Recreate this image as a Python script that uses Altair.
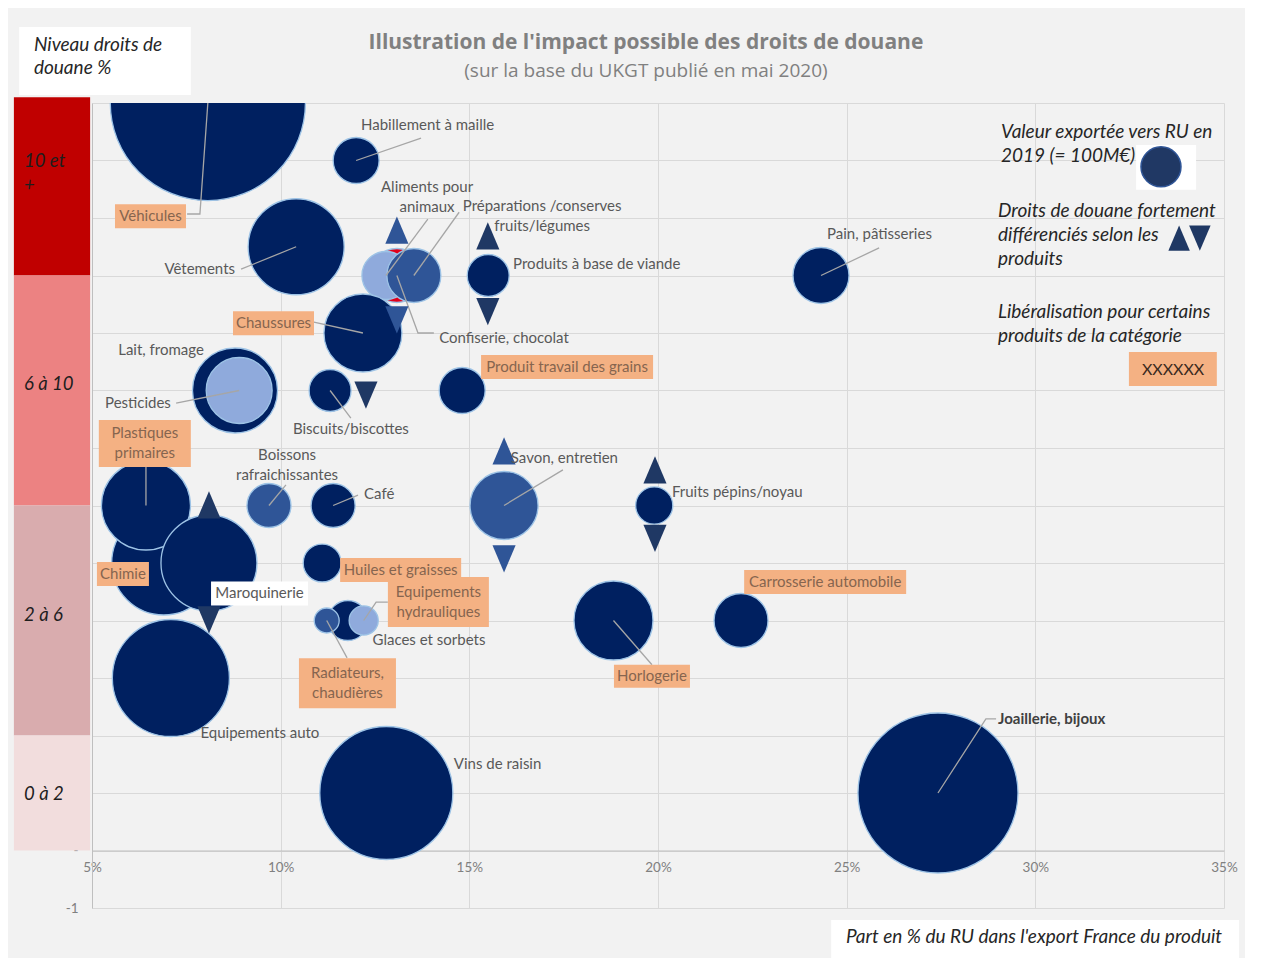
import altair as alt
import pandas as pd

# ---------------- data ----------------
products = ["Véhicules", "Equipements auto", "Vins de raisin", "Joaillerie, bijoux", "Chimie",
            "Plastiques primaires", "Maroquinerie", "Lait, fromage", "Pesticides", "Vêtements",
            "Confiserie, chocolat", "Aliments pour animaux", "Préparations /conserves fruits/légumes",
            "Chaussures", "Habillement à maille", "Produits à base de viande", "Pain, pâtisseries",
            "Biscuits/biscottes", "Produit travail des grains", "Boissons rafraichissantes", "Café",
            "Savon, entretien", "Fruits pépins/noyau", "Huiles et graisses", "Glaces et sorbets",
            "Radiateurs, chaudières", "Equipements hydrauliques", "Horlogerie", "Carrosserie automobile"]
uk_share = [8.07, 7.09, 12.8, 27.42, 6.9, 6.43, 8.1, 8.79, 8.9, 10.41,
            13.08, 12.79, 13.53, 12.18, 12.0, 15.5, 24.32, 11.31, 14.81, 9.69,
            11.39, 15.92, 19.9, 11.1, 11.78, 11.22, 12.2, 18.82, 22.2]
duty_level = [13, 3, 1, 1, 5, 6, 5, 8, 8, 10.5,
              10, 10, 10, 9, 12, 10, 10, 8, 8, 6,
              6, 6, 6, 5, 4, 4, 4, 4, 4]
export_value = [2380, 856, 1106, 1600, 676, 495, 576, 452, 272, 576,
                182, 144, 182, 380, 132, 110, 196, 110, 132, 121,
                121, 289, 86, 90, 100, 39, 53, 390, 182]
tone = ["navy", "navy", "navy", "navy", "navy", "navy", "navy", "navy", "light", "navy",
        "red", "light", "medium", "navy", "navy", "navy", "navy", "navy", "navy", "medium",
        "navy", "medium", "navy", "navy", "navy", "medium", "light", "navy", "navy"]

tri_product = ["Confiserie, chocolat", "Confiserie, chocolat", "Produits à base de viande",
               "Produits à base de viande", "Chaussures", "Maroquinerie", "Maroquinerie",
               "Savon, entretien", "Savon, entretien", "Fruits pépins/noyau", "Fruits pépins/noyau"]
tri_x = [13.08, 13.08, 15.49, 15.49, 12.26, 8.1, 8.1, 15.92, 15.92, 19.92, 19.92]
tri_y = [10.79, 9.23, 10.69, 9.37, 7.92, 6.01, 4.01, 6.95, 5.07, 6.62, 5.43]
tri_dir = ["up", "down", "up", "down", "down", "up", "down", "up", "down", "up", "down"]
tri_tone = ["medium", "medium", "dark", "dark", "dark", "dark", "dark", "medium", "medium", "dark", "dark"]

band_names = ["10 et\n+", "6 à 10", "2 à 6", "0 à 2"]
band_lo = [10, 6, 2, 0]
band_hi = [13.1, 10, 6, 2]
band_colors = ["#c00000", "#ec8282", "#d9acae", "#f2dddd"]
band_label_y = [11.78, 8.11, 4.1, 0.98]

x_ticks = [5, 10, 15, 20, 25, 30, 35]
y_ticks = list(range(-1, 14))

# label annotations: text, x, y (block centre), align, kind, box width px, box height px
labels = [
    ("Habillement à maille", 12.13, 12.62, "left", "plain", 0, 0),
    ("Aliments pour\nanimaux", 13.88, 11.36, "center", "plain", 0, 0),
    ("Préparations /conserves\nfruits/légumes", 16.93, 11.03, "center", "plain", 0, 0),
    ("Produits à base de viande", 16.16, 10.2, "left", "plain", 0, 0),
    ("Pain, pâtisseries", 24.48, 10.72, "left", "plain", 0, 0),
    ("Vêtements", 8.79, 10.11, "right", "plain", 0, 0),
    ("Véhicules", 6.55, 11.03, "center", "orange", 71, 24),
    ("Chaussures", 9.81, 9.17, "center", "orange", 81, 24),
    ("Confiserie, chocolat", 14.2, 8.91, "left", "plain", 0, 0),
    ("Lait, fromage", 6.83, 8.7, "center", "plain", 0, 0),
    ("Pesticides", 7.09, 7.78, "right", "plain", 0, 0),
    ("Biscuits/biscottes", 11.86, 7.33, "center", "plain", 0, 0),
    ("Produit travail des grains", 17.59, 8.41, "center", "orange", 172, 24),
    ("Plastiques\nprimaires", 6.4, 7.08, "center", "orange", 92, 47),
    ("Boissons\nrafraichissantes", 10.17, 6.71, "center", "plain", 0, 0),
    ("Café", 12.21, 6.2, "left", "plain", 0, 0),
    ("Savon, entretien", 16.1, 6.83, "left", "plain", 0, 0),
    ("Fruits pépins/noyau", 20.37, 6.23, "left", "plain", 0, 0),
    ("Chimie", 5.82, 4.81, "center", "orange", 52, 24),
    ("Maroquinerie", 9.44, 4.47, "center", "white", 97, 24),
    ("Huiles et graisses", 13.18, 4.88, "center", "orange", 121, 24),
    ("Equipements\nhydrauliques", 14.18, 4.32, "center", "orange", 101, 50),
    ("Glaces et sorbets", 13.93, 3.66, "center", "plain", 0, 0),
    ("Radiateurs,\nchaudières", 11.77, 2.91, "center", "orange", 97, 50),
    ("Horlogerie", 19.84, 3.03, "center", "orange", 76, 23),
    ("Carrosserie automobile", 24.43, 4.67, "center", "orange", 162, 24),
    ("Equipements auto", 9.45, 2.04, "center", "plain", 0, 0),
    ("Vins de raisin", 14.59, 1.5, "left", "plain", 0, 0),
    ("Joaillerie, bijoux", 29.01, 2.29, "left", "bold", 0, 0),
]

leaders = {
    "Habillement à maille": [(13.72, 12.39)],
    "Aliments pour animaux": [(13.9, 10.98)],
    "Préparations /conserves fruits/légumes": [(14.73, 11.1)],
    "Pain, pâtisseries": [(25.86, 10.48)],
    "Vêtements": [(8.95, 10.11)],
    "Véhicules": [(7.86, 11.07), (7.52, 11.07)],
    "Chaussures": [(10.88, 9.19)],
    "Confiserie, chocolat": [(13.64, 9.0), (14.06, 9.0)],
    "Pesticides": [(7.23, 7.78)],
    "Biscuits/biscottes": [(11.86, 7.52)],
    "Plastiques primaires": [(6.43, 6.67)],
    "Boissons rafraichissantes": [(10.14, 6.36)],
    "Café": [(12.05, 6.18)],
    "Savon, entretien": [(17.48, 6.62)],
    "Equipements hydrauliques": [(12.53, 4.32), (12.84, 4.32)],
    "Radiateurs, chaudières": [(11.76, 3.35)],
    "Horlogerie": [(19.84, 3.23)],
    "Joaillerie, bijoux": [(28.69, 2.29), (28.96, 2.29)],
}

legend_lines = [
    ("Valeur exportée vers RU en", 29.09, 12.50),
    ("2019 (= 100M€)", 29.09, 12.08),
    ("Droits de douane fortement", 29.01, 11.12),
    ("différenciés selon les", 29.01, 10.70),
    ("produits", 29.01, 10.29),
    ("Libéralisation pour certains", 29.01, 9.37),
    ("produits de la catégorie", 29.01, 8.95),
]

# ---------------- scales / axes ----------------
W, H = 1132, 805
XU = 30 / W
YU = 14 / H
FONT = "Lato"
LAB_SIZE = 15
LAB_LH = 20
BAND_LH = 24

XS = alt.Scale(domain=[5, 35], nice=False, zero=False)
YS = alt.Scale(domain=[-1, 13], nice=False, zero=False)
XAX = alt.Axis(values=x_ticks, labelExpr="datum.value + '%'", grid=True, gridColor="#d9d9d9",
               ticks=False, domainColor="#bfbfbf", offset=-57.5, labelPadding=10, labelFlush=False,
               labelColor="#808080", labelFont=FONT, labelFontSize=13.5, title="")
YAX = alt.Axis(values=y_ticks,
               labelExpr="datum.value == -1 ? '-1' : (datum.value == 0 ? '-' : '')",
               grid=True, gridColor="#d9d9d9", ticks=False, domainColor="#bfbfbf",
               labelPadding=14, labelColor="#808080", labelFont=FONT, labelFontSize=13.5, title="")
COLOR = alt.Scale(domain=["navy", "medium", "light", "red", "dark"],
                  range=["#002060", "#2f5597", "#8faadc", "#e0001b", "#1f3864"])
# circle symbol: radius = sqrt(size)/2 ; 100 M€ -> radius 20 px
SIZE = alt.Scale(domain=[0, 2500], range=[0, 2500 * 16])
UP = "M0,-1L0.85,1L-0.85,1Z"
DOWN = "M0,1L0.85,-1L-0.85,-1Z"
SHAPE = alt.Scale(domain=["up", "down"], range=[UP, DOWN])


def ex(f="x"):
    return alt.X(f"{f}:Q", scale=XS, axis=XAX)


def ey(f="y"):
    return alt.Y(f"{f}:Q", scale=YS, axis=YAX)


def first_line_y(text, y, lh):
    n = text.count("\n") + 1
    return y + (n - 1) / 2 * lh * YU


# ---------------- tables ----------------
bdf = pd.DataFrame({"name": products, "x": uk_share, "y": duty_level,
                    "value": export_value, "tone": tone, "idx": range(len(products))})
tdf = pd.DataFrame({"name": tri_product, "x": tri_x, "y": tri_y, "dir": tri_dir, "tone": tri_tone})

centers = dict(zip(products, zip(uk_share, duty_level)))
lrows = []
for name, pts in leaders.items():
    allp = [centers[name]] + pts
    for k, (px, py) in enumerate(allp):
        lrows.append({"name": name, "x": px, "y": py, "k": k})
ldf = pd.DataFrame(lrows)

lab = pd.DataFrame(labels, columns=["text", "x", "yc", "align", "kind", "w", "h"])
lab["y"] = [first_line_y(t, y, LAB_LH) for t, y in zip(lab["text"], lab["yc"])]
boxes = lab[lab["w"] > 0].copy()
boxes["x1"] = boxes["x"] - boxes["w"] / 2 * XU
boxes["x2"] = boxes["x"] + boxes["w"] / 2 * XU
boxes["y1"] = boxes["yc"] - boxes["h"] / 2 * YU
boxes["y2"] = boxes["yc"] + boxes["h"] / 2 * YU

band_df = pd.DataFrame({"band": band_names, "x": [2.93] * 4, "x2": [4.95] * 4,
                        "y": band_lo, "y2": band_hi, "lx": [3.2] * 4,
                        "ly": [first_line_y(t, y, BAND_LH) for t, y in zip(band_names, band_label_y)]})

# ---------------- layers ----------------
bands = alt.Chart(band_df).mark_rect().encode(
    x=ex(), x2="x2:Q", y=ey(), y2="y2:Q",
    fill=alt.Fill("band:N", scale=alt.Scale(domain=band_names, range=band_colors), legend=None))
band_txt = alt.Chart(band_df).mark_text(align="left", baseline="middle", font=FONT, fontSize=18.5,
                                        fontStyle="italic", color="#1e1e1e", lineBreak="\n",
                                        lineHeight=BAND_LH).encode(
    x=ex("lx"), y=ey("ly"), text="band:N")

white_boxes = pd.DataFrame({"x": [3.07, 32.67, 24.59], "x2": [7.62, 34.26, 35.40],
                            "y": [13.14, 11.49, -1.87], "y2": [14.32, 12.27, -1.21]})
wbox = alt.Chart(white_boxes).mark_rect(color="white").encode(x=ex(), x2="x2:Q", y=ey(), y2="y2:Q")

corner_txt = pd.DataFrame({"text": ["Niveau droits de", "douane %",
                                    "Part en % du RU dans l'export France du produit"],
                           "x": [3.46, 3.46, 24.98], "y": [14.01, 13.61, -1.50]})
corner = alt.Chart(corner_txt).mark_text(align="left", baseline="middle", font=FONT, fontSize=19,
                                         fontStyle="italic", color="#262626").encode(
    x=ex(), y=ey(), text="text:N")

title_df = pd.DataFrame({"text": ["Illustration  de l'impact possible des droits de douane"],
                         "x": [19.68], "y": [14.04]})
sub_df = pd.DataFrame({"text": ["(sur la base du UKGT publié en mai 2020)"], "x": [19.68], "y": [13.56]})
title = alt.Chart(title_df).mark_text(align="center", baseline="middle", font="Open Sans", fontSize=21,
                                      fontWeight="bold", color="#808080").encode(
    x=ex(), y=ey(), text="text:N")
subtitle = alt.Chart(sub_df).mark_text(align="center", baseline="middle", font="Open Sans",
                                       fontSize=19, color="#808080").encode(
    x=ex(), y=ey(), text="text:N")

bubbles = alt.Chart(bdf).mark_circle(opacity=1, stroke="#9dc3e6", strokeWidth=1.3, clip=True).encode(
    x=ex(), y=ey(),
    size=alt.Size("value:Q", scale=SIZE, legend=None),
    color=alt.Color("tone:N", scale=COLOR, legend=None),
    order=alt.Order("idx:Q"))

lead = alt.Chart(ldf).mark_line(color="#a6a6a6", strokeWidth=1.3).encode(
    x=ex(), y=ey(), detail="name:N", order="k:Q")

tris = alt.Chart(tdf).mark_point(filled=True, opacity=1, size=740, strokeWidth=0).encode(
    x=ex(), y=ey(),
    shape=alt.Shape("dir:N", scale=SHAPE, legend=None),
    color=alt.Color("tone:N", scale=COLOR, legend=None))

obox = alt.Chart(boxes[boxes["kind"] == "orange"]).mark_rect(color="#f4b183").encode(
    x=ex("x1"), x2="x2:Q", y=ey("y1"), y2="y2:Q")
wlab = alt.Chart(boxes[boxes["kind"] == "white"]).mark_rect(color="white").encode(
    x=ex("x1"), x2="x2:Q", y=ey("y1"), y2="y2:Q")


def text_layer(df, align, color, weight="normal"):
    return alt.Chart(df).mark_text(align=align, baseline="middle", font=FONT, fontSize=LAB_SIZE,
                                   color=color, fontWeight=weight, lineBreak="\n",
                                   lineHeight=LAB_LH).encode(x=ex(), y=ey(), text="text:N")


plain = lab[lab["kind"].isin(["plain", "white"])]
t_left = text_layer(plain[plain["align"] == "left"], "left", "#595959")
t_center = text_layer(plain[plain["align"] == "center"], "center", "#595959")
t_right = text_layer(plain[plain["align"] == "right"], "right", "#595959")
t_orange = text_layer(lab[lab["kind"] == "orange"], "center", "#86654f")
t_bold = text_layer(lab[lab["kind"] == "bold"], "left", "#404040", "bold")

# legend (right side)
leg_df = pd.DataFrame(legend_lines, columns=["text", "x", "y"])
leg_txt = alt.Chart(leg_df).mark_text(align="left", baseline="middle", font=FONT, fontSize=19,
                                      fontStyle="italic", color="#262626").encode(
    x=ex(), y=ey(), text="text:N")
leg_circle = alt.Chart(pd.DataFrame({"x": [33.33], "y": [11.89], "value": [100]})).mark_circle(
    opacity=1, color="#203864", stroke="#2f5597", strokeWidth=1.5).encode(
    x=ex(), y=ey(), size=alt.Size("value:Q", scale=SIZE, legend=None))
leg_tris = alt.Chart(pd.DataFrame({"x": [33.81, 34.36], "y": [10.65, 10.65], "dir": ["up", "down"],
                                   "tone": ["dark", "dark"]})).mark_point(
    filled=True, opacity=1, size=640, strokeWidth=0).encode(
    x=ex(), y=ey(), shape=alt.Shape("dir:N", scale=SHAPE, legend=None),
    color=alt.Color("tone:N", scale=COLOR, legend=None))
leg_obox = alt.Chart(pd.DataFrame({"x": [32.48], "x2": [34.81], "y": [8.08], "y2": [8.67]})).mark_rect(
    color="#f4b183").encode(x=ex(), x2="x2:Q", y=ey(), y2="y2:Q")
leg_otxt = alt.Chart(pd.DataFrame({"text": ["XXXXXX"], "x": [33.65], "y": [8.36]})).mark_text(
    align="center", baseline="middle", font=FONT, fontSize=16, color="#3b2a20").encode(
    x=ex(), y=ey(), text="text:N")

chart = alt.layer(
    bands, band_txt, wbox, corner, title, subtitle,
    bubbles, lead, tris, obox, wlab,
    t_left, t_center, t_right, t_orange, t_bold,
    leg_txt, leg_circle, leg_tris, leg_obox, leg_otxt,
).properties(
    width=W, height=H,
    padding={"left": 5, "top": 19, "right": 5, "bottom": 5},
    background="#f2f2f2",
).configure_view(strokeWidth=0)

chart.save("out.html", embed_options={"renderer": "svg", "actions": False})
